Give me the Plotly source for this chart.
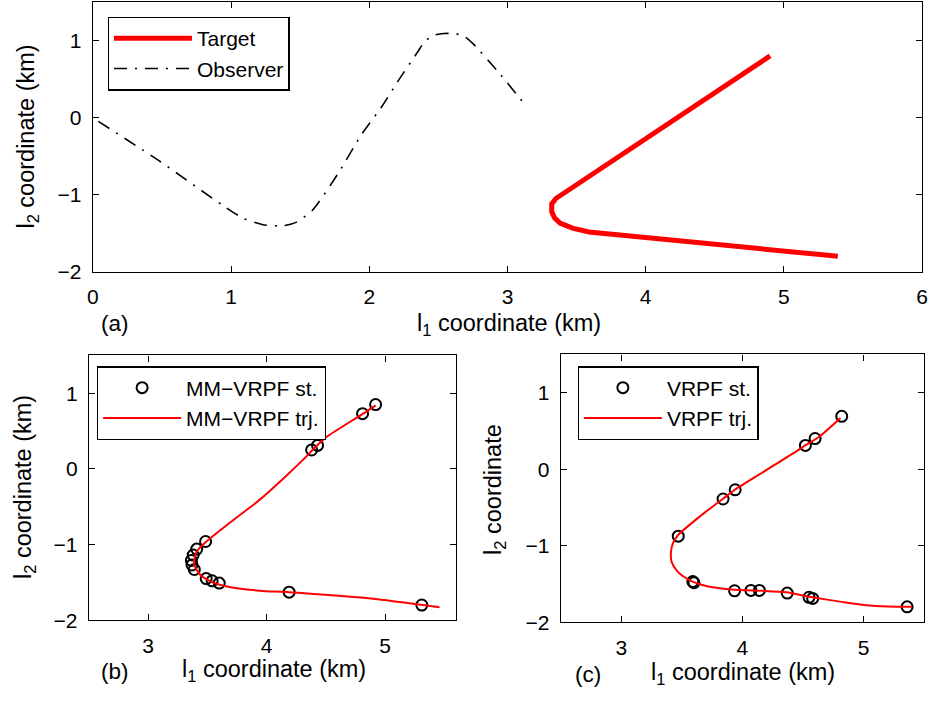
import plotly.graph_objects as go

# ---------------- data ----------------
# (a) observer and target trajectories
obs_x = [0.04, 0.47, 0.94, 1.09, 1.23, 1.37, 1.47, 1.59, 1.78, 1.94, 2.09, 2.21, 2.35, 2.40, 2.47, 2.54, 2.62, 2.69, 2.75, 2.92, 3.13]
obs_y = [-0.05, -0.55, -1.14, -1.31, -1.39, -1.405, -1.36, -1.20, -0.71, -0.23, 0.14, 0.48, 0.85, 0.985, 1.07, 1.09, 1.09, 1.05, 0.96, 0.62, 0.16]

target_x = [4.90, 3.40, 3.35, 3.32, 3.32, 3.34, 3.38, 3.47, 3.59, 5.39]
target_y = [0.80, -0.99, -1.05, -1.12, -1.22, -1.30, -1.37, -1.435, -1.485, -1.80]

# (b) MM-VRPF
mm_st_x = [4.92, 4.81, 4.43, 4.38, 3.485, 3.41, 3.38, 3.365, 3.37, 3.39, 3.49, 3.54, 3.60, 4.19, 5.31]
mm_st_y = [0.85, 0.73, 0.31, 0.25, -0.96, -1.06, -1.14, -1.21, -1.27, -1.33, -1.45, -1.48, -1.51, -1.63, -1.80]
mm_trj_x = [4.92, 4.815, 4.50, 4.41, 4.33, 4.16, 3.94, 3.72, 3.50, 3.415, 3.39, 3.39, 3.44, 3.53, 3.665, 3.94, 4.19, 4.86, 5.46]
mm_trj_y = [0.84, 0.73, 0.415, 0.285, 0.155, -0.10, -0.41, -0.675, -0.95, -1.08, -1.19, -1.27, -1.40, -1.49, -1.555, -1.61, -1.63, -1.71, -1.83]

# (c) VRPF
vr_st_x = [4.82, 4.60, 4.52, 3.94, 3.84, 3.47, 3.59, 3.60, 3.935, 4.07, 4.14, 4.37, 4.55, 4.58, 5.36]
vr_st_y = [0.69, 0.40, 0.31, -0.27, -0.39, -0.876, -1.47, -1.485, -1.59, -1.585, -1.585, -1.62, -1.675, -1.69, -1.80]
vr_trj_x = [4.81, 4.63, 4.52, 4.47, 4.20, 3.94, 3.84, 3.655, 3.466, 3.425, 3.41, 3.415, 3.465, 3.57, 3.71, 3.935, 4.17, 4.36, 4.58, 4.82, 5.00, 5.20, 5.40]
vr_trj_y = [0.67, 0.42, 0.313, 0.258, -0.01, -0.266, -0.387, -0.61, -0.867, -0.975, -1.08, -1.21, -1.34, -1.456, -1.53, -1.576, -1.59, -1.61, -1.675, -1.735, -1.775, -1.797, -1.80]

FONT = "Liberation Sans, Arial, Helvetica, sans-serif"
FS = 21
FS_TITLE = 23.5
W, H = 936, 706

fig = go.Figure()

# (a)
fig.add_trace(go.Scatter(x=target_x, y=target_y, mode="lines", name="Target",
                         line=dict(color="#ff0000", width=5), xaxis="x", yaxis="y", legend="legend"))
fig.add_trace(go.Scatter(x=obs_x, y=obs_y, mode="lines", name="Observer",
                         line=dict(color="black", width=1.6, dash="13px,8px,2px,8px", shape="spline", smoothing=0.6),
                         xaxis="x", yaxis="y", legend="legend"))
# (b)
fig.add_trace(go.Scatter(x=mm_st_x, y=mm_st_y, mode="markers", name="MM\u2212VRPF st.",
                         marker=dict(symbol="circle-open", size=11, color="black", line=dict(width=2, color="black")),
                         xaxis="x2", yaxis="y2", legend="legend2"))
fig.add_trace(go.Scatter(x=mm_trj_x, y=mm_trj_y, mode="lines", name="MM\u2212VRPF trj.",
                         line=dict(color="#ff0000", width=2, shape="spline", smoothing=0.7),
                         xaxis="x2", yaxis="y2", legend="legend2"))
# (c)
fig.add_trace(go.Scatter(x=vr_st_x, y=vr_st_y, mode="markers", name="VRPF st.",
                         marker=dict(symbol="circle-open", size=11, color="black", line=dict(width=2, color="black")),
                         xaxis="x3", yaxis="y3", legend="legend3"))
fig.add_trace(go.Scatter(x=vr_trj_x, y=vr_trj_y, mode="lines", name="VRPF trj.",
                         line=dict(color="#ff0000", width=2, shape="spline", smoothing=0.7),
                         xaxis="x3", yaxis="y3", legend="legend3"))


def px2fx(px):
    return px / W


def px2fy(py):
    return 1 - py / H


def axis(domain, rng, dtick, anchor):
    return dict(domain=domain, range=rng, dtick=dtick, tick0=0, anchor=anchor,
                showline=True, linecolor="black", linewidth=1.3, mirror="ticks",
                ticks="inside", ticklen=6, tickwidth=1, tickcolor="black",
                showgrid=False, zeroline=False, ticklabelstandoff=6,
                tickfont=dict(family=FONT, size=FS, color="black"), fixedrange=True)


legend_common = dict(bgcolor="white", bordercolor="black", borderwidth=1.3,
                     font=dict(family=FONT, size=FS, color="black"),
                     xanchor="left", yanchor="top", itemwidth=78, tracegroupgap=0)

fig.update_layout(
    width=W, height=H, margin=dict(l=0, r=0, t=0, b=0),
    paper_bgcolor="white", plot_bgcolor="white",
    font=dict(family=FONT, size=FS, color="black"),
    xaxis=axis([px2fx(88), px2fx(928)], [0, 6], 1, "y"),
    yaxis=axis([px2fy(276), px2fy(2)], [-2, 1.5], 1, "x"),
    xaxis2=axis([px2fx(84), px2fx(456)], [2.5, 5.6], 1, "y2"),
    yaxis2=axis([px2fy(630), px2fy(361)], [-2, 1.5], 1, "x2"),
    xaxis3=axis([px2fx(562), px2fx(930)], [2.5, 5.5], 1, "y3"),
    yaxis3=axis([px2fy(632), px2fy(360)], [-2, 1.5], 1, "x3"),
    legend=dict(x=px2fx(103), y=px2fy(17), **legend_common),
    legend2=dict(x=px2fx(92), y=px2fy(372), **legend_common),
    legend3=dict(x=px2fx(579), y=px2fy(372), **legend_common),
    showlegend=True,
)

ann = []


def add_text(text, px, py, angle=0, size=FS_TITLE):
    ann.append(dict(text=text, x=px2fx(px), y=px2fy(py), xref="paper", yref="paper",
                    showarrow=False, xanchor="center", yanchor="middle", textangle=angle,
                    font=dict(family=FONT, size=size, color="black")))


add_text("l<sub>1</sub> coordinate (km)", 510, 330)
add_text("l<sub>2</sub> coordinate (km)", 22, 139, -90)
add_text("(a)", 110, 329, size=22.5)
add_text("l<sub>1</sub> coordinate (km)", 271, 681)
add_text("l<sub>2</sub> coordinate (km)", 19, 495, -90)
add_text("(b)", 110, 682, size=22.5)
add_text("l<sub>1</sub> coordinate (km)", 747, 684)
add_text("l<sub>2</sub> coordinate", 495, 497, -90)
add_text("(c)", 590, 685, size=22.5)

fig.update_layout(annotations=ann)

fig.write_html("out.html")
